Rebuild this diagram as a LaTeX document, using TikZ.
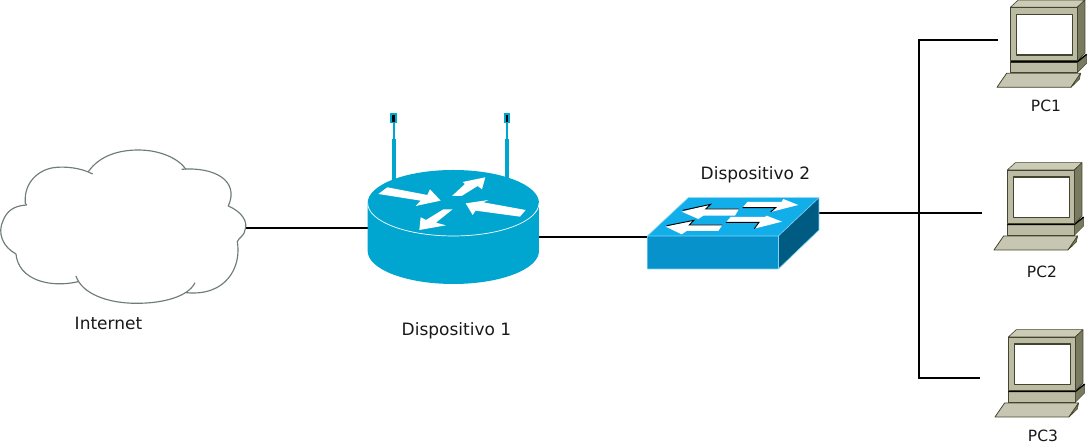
\documentclass[tikz,border=0pt]{standalone}
\usepackage{fontspec}
\setmainfont{DejaVu Sans}
\definecolor{rt}{HTML}{00A6CF}
\definecolor{swtop}{HTML}{12AEEA}
\definecolor{swfront}{HTML}{0792CC}
\definecolor{swside}{HTML}{005B82}
\definecolor{pcfront}{HTML}{BCBCA4}
\definecolor{pctop}{HTML}{CBCBB6}
\definecolor{pcside}{HTML}{7A7A60}
\definecolor{pcedge}{HTML}{45452F}
\definecolor{cloudline}{HTML}{6E7C7C}
\tikzset{
  wire/.style={line width=2pt,black},
  lbl/.style={font=\fontsize{17}{20}\selectfont,inner sep=0pt,text=black!90},
  pclbl/.style={font=\fontsize{15.5}{18}\selectfont,inner sep=0pt,text=black!90},
  zoomed/.style={x=0.3333pt,y=-0.3333pt},
  pcunit/.pic={
    \begin{scope}[zoomed,line join=round]
      \fill[pcfront!85!white,draw=pcedge,line width=0.8pt] (-40,240) -- (-11,198) -- (211,198) -- (182,240) -- cycle;
      \fill[pcside,draw=pcedge,line width=0.6pt] (182,240) -- (211,198) -- (207,216) -- cycle;
      \fill[pcfront,draw=pcedge,line width=0.6pt] (0,164) rectangle (201,196);
      \fill[pcside,draw=pcedge,line width=0.5pt] (201,166) -- (229,143) -- (229,168) -- (201,196) -- cycle;
      \draw[black,line width=1.4pt] (0,163) -- (201,163) -- (229,141);
      \fill[pctop,draw=pcedge,line width=0.6pt] (0,0) -- (24,-22) -- (224,-22) -- (201,0) -- cycle;
      \fill[pcside,draw=pcedge,line width=0.6pt] (201,0) -- (224,-22) -- (224,138) -- (201,160) -- cycle;
      \fill[pcfront,draw=pcedge,line width=0.8pt] (0,0) rectangle (201,160);
      \fill[white,draw=pcedge,line width=1.1pt] (19,21) rectangle (186,143);
    \end{scope}
  }
}
\begin{document}
\begin{tikzpicture}[x=1pt,y=-1pt]
\useasboundingbox (0,0) rectangle (1088,446);
\fill[white] (0,0) rectangle (1088,446);

% connection points
\coordinate (cloudport) at (245,228);
\coordinate (routerW) at (368,228);
\coordinate (routerE) at (539,237);
\coordinate (switchW) at (648,237);
\coordinate (switchE) at (819,213);
\coordinate (busM) at (919,213);
\coordinate (busT) at (919,40);
\coordinate (busB) at (919,378);
\coordinate (pc1port) at (997,40);
\coordinate (pc2port) at (982,213);
\coordinate (pc3port) at (979,378);

% wires
\draw[wire] (cloudport) -- (routerW);
\draw[wire] (routerE) -- (switchW);
\draw[wire] (switchE) -- (pc2port);
\draw[wire,line cap=rect] (pc1port) -- (busT) -- (busB) -- (pc3port);

% cloud
\begin{scope}[shift={(0,140)},zoomed,draw=cloudline,line width=1.15pt]
  \draw (278,102) .. controls (240,82) and (195,80) .. (170,82) .. controls (120,85) and (70,125) .. (76,190) -- (80,195);
  \draw (80,195) .. controls (40,197) and (20,215) .. (10,240) .. controls (-10,280) and (10,322) .. (48,342);
  \draw (48,342) .. controls (55,420) and (150,445) .. (235,425);
  \draw (228,408) .. controls (245,460) and (320,490) .. (410,490) .. controls (490,490) and (565,470) .. (585,428);
  \draw (558,458) .. controls (680,470) and (725,380) .. (712,305) .. controls (715,295) and (735,285) .. (735,270)
     .. controls (745,245) and (725,215) .. (685,198) .. controls (720,120) and (640,80) .. (545,88);
  \draw (265,95) .. controls (300,45) and (360,30) .. (415,30) .. controls (480,30) and (535,55) .. (558,88);
\end{scope}

% router
\begin{scope}[shift={(350,100)},zoomed]
  \fill[rt] (120,40) rectangle (140,70);
  \fill[black] (126,44) rectangle (134,66);
  \fill[rt] (129,70) rectangle (135,116);
  \fill[rt] (125,116) rectangle (137,240);
  \fill[rt] (462,40) rectangle (480,70);
  \fill[black] (468,44) rectangle (474,66);
  \fill[rt] (468,70) rectangle (474,116);
  \fill[rt] (465,116) rectangle (477,240);
  \fill[rt] (53,309) -- (53,453) arc[x radius=257,y radius=-99,start angle=180,end angle=360] -- (567,309) -- cycle;
  \fill[rt] (310,309) ellipse [x radius=257,y radius=99];
  \draw[white,line width=0.7pt] (53,309) arc[x radius=257,y radius=-99,start angle=180,end angle=360];
  \fill[white] (85,282) -- (112,262) -- (232,285) -- (240,268) -- (272,302) -- (197,318) -- (212,302) -- cycle;
  \fill[white] (306,288) -- (345,252) -- (338,246) -- (406,232) -- (396,268) -- (383,258) -- (335,288) -- cycle;
  \fill[white] (347,310) -- (416,300) -- (400,307) -- (527,330) -- (510,350) -- (377,332) -- (368,345) -- cycle;
  \fill[white] (208,390) -- (212,352) -- (228,360) -- (280,328) -- (308,328) -- (258,368) -- (288,376) -- cycle;
\end{scope}

% switch
\begin{scope}[shift={(640,185)},zoomed]
  \fill[swtop] (22,153) -- (145,38) -- (537,38) -- (415,153) -- cycle;
  \fill[swfront] (22,153) rectangle (415,252);
  \fill[swside] (415,153) -- (537,38) -- (537,135) -- (415,252) -- cycle;
  \draw[cyan!50!white,line width=0.6pt] (22,252) -- (22,153) -- (145,38) -- (537,38) -- (537,135) -- (415,252) -- (22,252);
  \draw[cyan!50!white,line width=0.6pt] (22,153) -- (415,153) -- (537,38);
  \draw[cyan!50!white,line width=0.6pt] (415,153) -- (415,252);
  % arrows
  \fill[white] (125,80) -- (212,58) -- (197,72) -- (297,72) -- (285,92) -- (190,92) -- (175,102) -- cycle;
  \draw[black,line width=0.9pt] (128,76) -- (212,58) -- (197,72) -- (297,72);
  \fill[white] (77,125) -- (162,106) -- (148,120) -- (247,120) -- (235,138) -- (140,138) -- (125,148) -- cycle;
  \draw[black,line width=0.9pt] (80,122) -- (162,106) -- (148,120) -- (247,120);
  \fill[white] (308,68) -- (322,51) -- (425,51) -- (430,42) -- (475,60) -- (392,81) -- (407,68) -- cycle;
  \draw[black,line width=0.9pt] (392,81) -- (407,68) -- (308,68);
  \fill[white] (258,112) -- (272,96) -- (375,96) -- (380,92) -- (426,110) -- (343,131) -- (357,112) -- cycle;
  \draw[black,line width=0.9pt] (343,131) -- (357,112) -- (258,112);
\end{scope}

% PCs
\pic at (1010.3,7.3) {pcunit};
\pic at (1007.3,170) {pcunit};
\pic at (1008.3,337) {pcunit};

% labels
\node[lbl] (internet) at (108.5,323.5) {Internet};
\node[lbl] (dev1) at (456.5,330.5) {Dispositivo 1};
\node[lbl] (dev2) at (755.5,175) {Dispositivo 2};
\node[pclbl] (pc1) at (1046,105.5) {PC1};
\node[pclbl] (pc2) at (1042,271.5) {PC2};
\node[pclbl] (pc3) at (1043,436) {PC3};
\end{tikzpicture}
\end{document}
